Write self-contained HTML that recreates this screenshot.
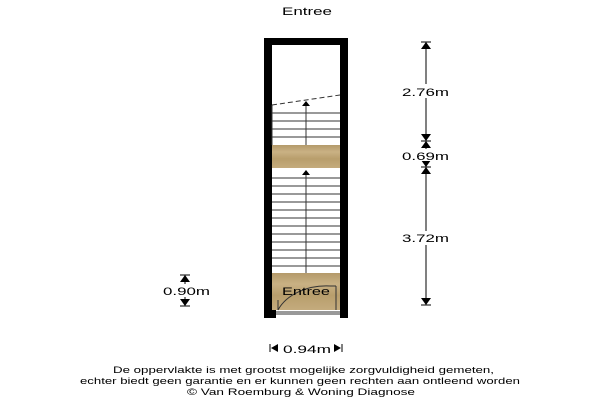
<!DOCTYPE html>
<html><head><meta charset="utf-8"><style>
html,body{margin:0;padding:0;background:#fff;width:600px;height:400px;overflow:hidden}
text{font-family:"Liberation Sans",sans-serif;fill:#000}
</style></head><body>
<svg width="600" height="400" viewBox="0 0 600 400" xmlns="http://www.w3.org/2000/svg">
<defs>
<linearGradient id="wood" x1="0" y1="0" x2="0" y2="1">
<stop offset="0" stop-color="#b49a6a"/><stop offset="0.3" stop-color="#c9b184"/><stop offset="0.6" stop-color="#b89e6c"/><stop offset="1" stop-color="#c4ab7d"/>
</linearGradient>
</defs>
<text x="282" y="15" font-size="11" textLength="50" lengthAdjust="spacingAndGlyphs">Entree</text>
<rect x="264" y="38" width="84" height="7" fill="#000"/>
<rect x="264" y="38" width="8" height="280" fill="#000"/>
<rect x="340" y="38" width="8" height="280" fill="#000"/>
<rect x="264" y="310" width="12" height="8" fill="#000"/>
<rect x="272" y="145" width="68" height="23" fill="url(#wood)"/>
<rect x="272" y="273" width="68" height="37" fill="url(#wood)"/>
<rect x="276" y="311" width="64" height="4" fill="#999"/>
<g stroke="#333" stroke-width="1" fill="none">
<path d="M272,105 L340,95" stroke-dasharray="5,3"/>
<line x1="272" y1="105" x2="272" y2="145"/>
<line x1="272" y1="113" x2="340" y2="113"/><line x1="272" y1="121" x2="340" y2="121"/>
<line x1="272" y1="129" x2="340" y2="129"/><line x1="272" y1="137" x2="340" y2="137"/>
<line x1="306" y1="103" x2="306" y2="145"/>
<line x1="272" y1="178" x2="340" y2="178"/><line x1="272" y1="186" x2="340" y2="186"/>
<line x1="272" y1="194" x2="340" y2="194"/><line x1="272" y1="202" x2="340" y2="202"/>
<line x1="272" y1="210" x2="340" y2="210"/><line x1="272" y1="218" x2="340" y2="218"/>
<line x1="272" y1="226" x2="340" y2="226"/><line x1="272" y1="234" x2="340" y2="234"/>
<line x1="272" y1="242" x2="340" y2="242"/><line x1="272" y1="250" x2="340" y2="250"/>
<line x1="272" y1="258" x2="340" y2="258"/><line x1="272" y1="266" x2="340" y2="266"/>
<line x1="306" y1="172" x2="306" y2="273"/>
<path d="M278,310 A52,38 0 0 1 330,286"/>
<line x1="330" y1="286" x2="336" y2="286"/><line x1="336" y1="286" x2="336" y2="310"/>
<line x1="278" y1="300" x2="278" y2="310"/>
</g>
<path d="M302,106 L310,106 L306,101 Z" fill="#000"/>
<path d="M302,175 L310,175 L306,170 Z" fill="#000"/>
<text x="282" y="295" font-size="11" textLength="48" lengthAdjust="spacingAndGlyphs">Entree</text>
<g stroke="#000" stroke-width="1">
<line x1="426" y1="42" x2="426" y2="305"/>
<line x1="421" y1="42" x2="431" y2="42"/><line x1="421" y1="141" x2="431" y2="141"/>
<line x1="421" y1="167" x2="431" y2="167"/><line x1="421" y1="305" x2="431" y2="305"/>
<line x1="180" y1="275" x2="190" y2="275"/><line x1="180" y1="306" x2="190" y2="306"/>
<line x1="185" y1="275" x2="185" y2="306"/>
<line x1="270" y1="344" x2="270" y2="352"/><line x1="342" y1="344" x2="342" y2="352"/>
</g>
<g fill="#000">
<path d="M421,49 L431,49 L426,42 Z"/><path d="M421,134 L431,134 L426,141 Z"/>
<path d="M421,148 L431,148 L426,141 Z"/><path d="M421,160 L431,160 L426,167 Z"/>
<path d="M421,174 L431,174 L426,167 Z"/><path d="M421,298 L431,298 L426,305 Z"/>
<path d="M180,282 L190,282 L185,275 Z"/><path d="M180,299 L190,299 L185,306 Z"/>
<path d="M278,344 L278,352 L271,348 Z"/><path d="M334,344 L334,352 L341,348 Z"/>
</g>
<rect x="400" y="84" width="52" height="14" fill="#fff"/>
<text x="402" y="96" font-size="11" textLength="47" lengthAdjust="spacingAndGlyphs">2.76m</text>
<rect x="400" y="149" width="52" height="12" fill="#fff"/>
<text x="402" y="160" font-size="11" textLength="47" lengthAdjust="spacingAndGlyphs">0.69m</text>
<rect x="400" y="231" width="52" height="14" fill="#fff"/>
<text x="402" y="242" font-size="11" textLength="47" lengthAdjust="spacingAndGlyphs">3.72m</text>
<rect x="162" y="284" width="50" height="13" fill="#fff"/>
<text x="163" y="295" font-size="11" textLength="47" lengthAdjust="spacingAndGlyphs">0.90m</text>
<text x="283" y="353" font-size="11" textLength="48" lengthAdjust="spacingAndGlyphs">0.94m</text>
<text x="113" y="373" font-size="9.5" textLength="381" lengthAdjust="spacingAndGlyphs">De oppervlakte is met grootst mogelijke zorgvuldigheid gemeten,</text>
<text x="80" y="384" font-size="9.5" textLength="440" lengthAdjust="spacingAndGlyphs">echter biedt geen garantie en er kunnen geen rechten aan ontleend worden</text>
<text x="187" y="395" font-size="9.5" textLength="228" lengthAdjust="spacingAndGlyphs">© Van Roemburg &amp; Woning Diagnose</text>
</svg>
</body></html>
